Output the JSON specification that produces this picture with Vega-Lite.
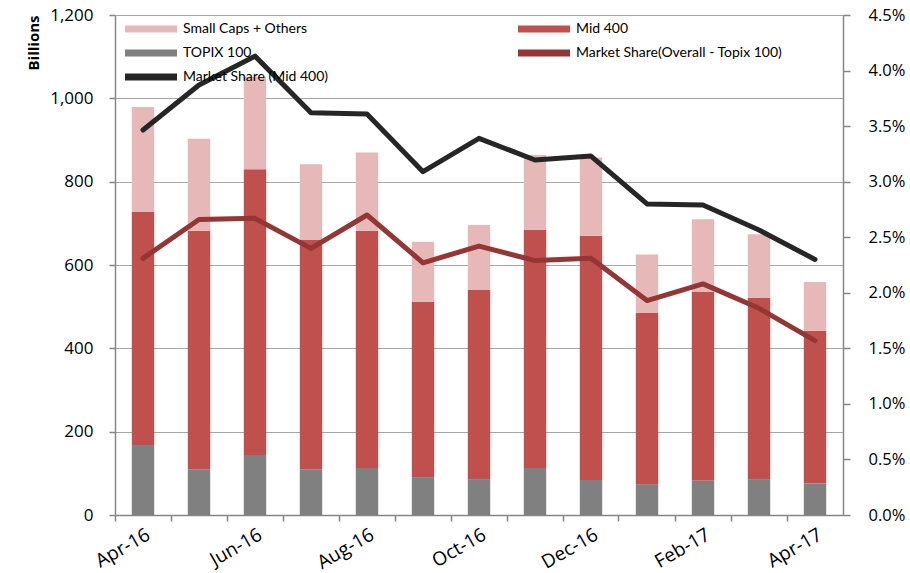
{
  "$schema": "https://vega.github.io/schema/vega-lite/v6.json",
  "width": 728,
  "height": 500,
  "autosize": {"type": "none"},
  "padding": {"left": 115, "top": 15, "right": 67, "bottom": 58},
  "config": {
    "font": "Open Sans",
    "view": {"stroke": null},
    "axis": {
      "labelFont": "Open Sans",
      "labelFontSize": 17,
      "labelColor": "#000000",
      "domainColor": "#868686",
      "tickColor": "#868686",
      "gridColor": "#A6A6A6",
      "domainWidth": 1.5,
      "tickWidth": 1.5
    }
  },
  "datasets": {
    "bars": [
      {"month": "Apr-16", "series": "TOPIX 100", "value": 168},
      {"month": "Apr-16", "series": "Mid 400", "value": 559},
      {"month": "Apr-16", "series": "Small Caps + Others", "value": 252},
      {"month": "May-16", "series": "TOPIX 100", "value": 110},
      {"month": "May-16", "series": "Mid 400", "value": 572},
      {"month": "May-16", "series": "Small Caps + Others", "value": 221},
      {"month": "Jun-16", "series": "TOPIX 100", "value": 144},
      {"month": "Jun-16", "series": "Mid 400", "value": 686},
      {"month": "Jun-16", "series": "Small Caps + Others", "value": 222},
      {"month": "Jul-16", "series": "TOPIX 100", "value": 110},
      {"month": "Jul-16", "series": "Mid 400", "value": 550},
      {"month": "Jul-16", "series": "Small Caps + Others", "value": 182},
      {"month": "Aug-16", "series": "TOPIX 100", "value": 113},
      {"month": "Aug-16", "series": "Mid 400", "value": 569},
      {"month": "Aug-16", "series": "Small Caps + Others", "value": 188},
      {"month": "Sep-16", "series": "TOPIX 100", "value": 91},
      {"month": "Sep-16", "series": "Mid 400", "value": 420},
      {"month": "Sep-16", "series": "Small Caps + Others", "value": 145},
      {"month": "Oct-16", "series": "TOPIX 100", "value": 86},
      {"month": "Oct-16", "series": "Mid 400", "value": 454},
      {"month": "Oct-16", "series": "Small Caps + Others", "value": 156},
      {"month": "Nov-16", "series": "TOPIX 100", "value": 113},
      {"month": "Nov-16", "series": "Mid 400", "value": 571},
      {"month": "Nov-16", "series": "Small Caps + Others", "value": 180},
      {"month": "Dec-16", "series": "TOPIX 100", "value": 84},
      {"month": "Dec-16", "series": "Mid 400", "value": 586},
      {"month": "Dec-16", "series": "Small Caps + Others", "value": 188},
      {"month": "Jan-17", "series": "TOPIX 100", "value": 74},
      {"month": "Jan-17", "series": "Mid 400", "value": 411},
      {"month": "Jan-17", "series": "Small Caps + Others", "value": 140},
      {"month": "Feb-17", "series": "TOPIX 100", "value": 82},
      {"month": "Feb-17", "series": "Mid 400", "value": 453},
      {"month": "Feb-17", "series": "Small Caps + Others", "value": 175},
      {"month": "Mar-17", "series": "TOPIX 100", "value": 86},
      {"month": "Mar-17", "series": "Mid 400", "value": 435},
      {"month": "Mar-17", "series": "Small Caps + Others", "value": 153},
      {"month": "Apr-17", "series": "TOPIX 100", "value": 76},
      {"month": "Apr-17", "series": "Mid 400", "value": 366},
      {"month": "Apr-17", "series": "Small Caps + Others", "value": 117}
    ],
    "shares": [
      {"month": "Apr-16", "series": "Market Share (Mid 400)", "share": 0.03465},
      {"month": "May-16", "series": "Market Share (Mid 400)", "share": 0.0387},
      {"month": "Jun-16", "series": "Market Share (Mid 400)", "share": 0.0413},
      {"month": "Jul-16", "series": "Market Share (Mid 400)", "share": 0.0362},
      {"month": "Aug-16", "series": "Market Share (Mid 400)", "share": 0.0361},
      {"month": "Sep-16", "series": "Market Share (Mid 400)", "share": 0.0309},
      {"month": "Oct-16", "series": "Market Share (Mid 400)", "share": 0.0339},
      {"month": "Nov-16", "series": "Market Share (Mid 400)", "share": 0.03195},
      {"month": "Dec-16", "series": "Market Share (Mid 400)", "share": 0.0323},
      {"month": "Jan-17", "series": "Market Share (Mid 400)", "share": 0.0280},
      {"month": "Feb-17", "series": "Market Share (Mid 400)", "share": 0.0279},
      {"month": "Mar-17", "series": "Market Share (Mid 400)", "share": 0.02565},
      {"month": "Apr-17", "series": "Market Share (Mid 400)", "share": 0.0230},
      {"month": "Apr-16", "series": "Market Share(Overall - Topix 100)", "share": 0.0231},
      {"month": "May-16", "series": "Market Share(Overall - Topix 100)", "share": 0.0266},
      {"month": "Jun-16", "series": "Market Share(Overall - Topix 100)", "share": 0.0267},
      {"month": "Jul-16", "series": "Market Share(Overall - Topix 100)", "share": 0.0240},
      {"month": "Aug-16", "series": "Market Share(Overall - Topix 100)", "share": 0.0270},
      {"month": "Sep-16", "series": "Market Share(Overall - Topix 100)", "share": 0.0227},
      {"month": "Oct-16", "series": "Market Share(Overall - Topix 100)", "share": 0.0242},
      {"month": "Nov-16", "series": "Market Share(Overall - Topix 100)", "share": 0.0229},
      {"month": "Dec-16", "series": "Market Share(Overall - Topix 100)", "share": 0.0231},
      {"month": "Jan-17", "series": "Market Share(Overall - Topix 100)", "share": 0.0193},
      {"month": "Feb-17", "series": "Market Share(Overall - Topix 100)", "share": 0.0208},
      {"month": "Mar-17", "series": "Market Share(Overall - Topix 100)", "share": 0.0186},
      {"month": "Apr-17", "series": "Market Share(Overall - Topix 100)", "share": 0.0157}
    ]
  },
  "layer": [
    {
      "data": {"name": "bars"},
      "transform": [
        {"calculate": "indexof(['TOPIX 100','Mid 400','Small Caps + Others'], datum.series)", "as": "ord"}
      ],
      "mark": {"type": "bar"},
      "encoding": {
        "x": {
          "field": "month",
          "type": "ordinal",
          "sort": null,
          "scale": {"paddingInner": 0.6, "paddingOuter": 0.3},
          "axis": {
            "title": null,
            "labelAngle": -30,
            "labelFontSize": 19,
            "bandPosition": -0.75,
            "labelOffset": 1,
            "tickSize": 6,
            "labelPadding": 4,
            "labelExpr": "indexof(['Apr-16','Jun-16','Aug-16','Oct-16','Dec-16','Feb-17','Apr-17'], datum.value) >= 0 ? datum.value : ''"
          }
        },
        "y": {
          "field": "value",
          "type": "quantitative",
          "aggregate": "sum",
          "stack": "zero",
          "scale": {"domain": [0, 1200], "nice": false},
          "axis": {
            "title": "Billions",
            "titleAnchor": "end",
            "titleFontWeight": "bold",
            "titleFontSize": 15,
            "titleFont": "Open Sans",
            "titleColor": "#000000",
            "titlePadding": 8,
            "format": ",d",
            "values": [0, 200, 400, 600, 800, 1000, 1200],
            "grid": true,
            "tickSize": 6,
            "labelPadding": 16
          }
        },
        "order": {"field": "ord", "type": "quantitative"},
        "color": {
          "field": "series",
          "type": "nominal",
          "scale": {
            "domain": ["Small Caps + Others", "TOPIX 100", "Market Share (Mid 400)", "Mid 400", "Market Share(Overall - Topix 100)"],
            "range": ["#E6B9B8", "#808080", "#262626", "#C0504D", "#943634"]
          },
          "legend": {
            "title": null,
            "orient": "none",
            "legendX": 26,
            "legendY": 4,
            "columns": 2,
            "columnPadding": 175,
            "rowPadding": -7,
            "labelFont": "Lato",
            "labelFontSize": 14,
            "labelColor": "#000000",
            "labelLimit": 400,
            "labelOffset": 22,
            "symbolType": "M-4,0H4",
            "symbolSize": 169,
            "symbolStrokeWidth": 7,
            "symbolOpacity": 1
          }
        }
      }
    },
    {
      "data": {"name": "shares"},
      "mark": {"type": "line", "strokeWidth": 5, "strokeCap": "round", "strokeJoin": "round"},
      "encoding": {
        "x": {"field": "month", "type": "ordinal", "sort": null},
        "y": {
          "field": "share",
          "type": "quantitative",
          "scale": {"domain": [0, 0.045], "nice": false},
          "axis": {
            "orient": "right",
            "title": null,
            "format": ".1%",
            "labelFontSize": 16.5,
            "values": [0, 0.005, 0.01, 0.015, 0.02, 0.025, 0.03, 0.035, 0.04, 0.045],
            "grid": false,
            "tickSize": 7,
            "labelPadding": 18
          }
        },
        "color": {"field": "series", "type": "nominal"}
      }
    }
  ],
  "resolve": {"scale": {"y": "independent"}}
}
